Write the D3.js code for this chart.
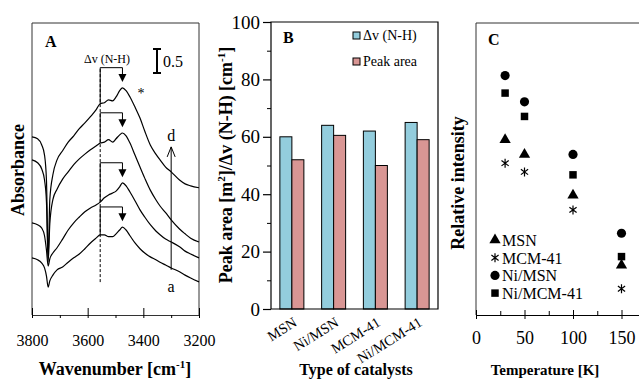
<!DOCTYPE html>
<html>
<head>
<meta charset="utf-8">
<script src="https://cdn.jsdelivr.net/npm/d3@7"></script>
<style>
  body { margin: 0; background: #fff; }
  svg { display: block; font-family: "Liberation Serif", "Times New Roman", serif; }
  svg text { font-family: "Liberation Serif", "Times New Roman", serif; }
</style>
</head>
<body>
<svg id="chart" width="639" height="381"></svg>
<script>
// ---------- panel A : IR spectra (a -> d) ----------
const wavenumbers = [3800, 3780, 3765, 3755, 3748, 3742, 3736, 3725, 3710, 3690, 3670, 3650,
  3630, 3610, 3590, 3570, 3555, 3540, 3525, 3510, 3498, 3485, 3475, 3462, 3448, 3430,
  3412, 3395, 3375, 3355, 3340, 3320, 3300, 3270, 3250, 3230, 3200];
const spectrumA = [1.19, 1.15, 1.08, 0.98, 0.81, 0.58, 0.71, 0.83, 0.94, 1.00, 1.10, 1.19,
  1.27, 1.38, 1.50, 1.60, 1.67, 1.67, 1.63, 1.63, 1.69, 1.77, 1.83, 1.77, 1.65, 1.50,
  1.38, 1.29, 1.21, 1.15, 1.10, 1.04, 0.98, 0.90, 0.83, 0.77, 0.69];
const spectrumB = [1.92, 1.88, 1.81, 1.65, 1.35, 1.02, 1.17, 1.29, 1.40, 1.58, 1.77, 1.92,
  2.04, 2.15, 2.23, 2.29, 2.35, 2.44, 2.50, 2.54, 2.58, 2.67, 2.75, 2.69, 2.56, 2.38,
  2.19, 2.04, 1.88, 1.75, 1.67, 1.58, 1.52, 1.42, 1.33, 1.27, 1.19];
const spectrumC = [3.23, 3.17, 3.04, 2.81, 2.35, 1.10, 1.90, 2.40, 2.62, 2.83, 2.98, 3.13,
  3.25, 3.35, 3.44, 3.52, 3.58, 3.60, 3.65, 3.60, 3.67, 3.75, 3.79, 3.73, 3.58, 3.33,
  3.08, 2.85, 2.60, 2.40, 2.27, 2.13, 1.98, 1.79, 1.69, 1.60, 1.52];
const spectrumD = [3.71, 3.67, 3.54, 3.33, 2.80, 1.19, 2.40, 2.92, 3.23, 3.42, 3.60, 3.73,
  3.88, 4.00, 4.13, 4.27, 4.40, 4.42, 4.48, 4.46, 4.54, 4.67, 4.73, 4.67, 4.54, 4.33,
  4.10, 3.83, 3.54, 3.35, 3.23, 3.08, 2.98, 2.81, 2.73, 2.69, 2.65];
const spectra = [spectrumA, spectrumB, spectrumC, spectrumD];
const refBand = 3555;   // dashed reference line
const peakBand = 3475;  // shifted N-H band

// ---------- panel B : bars ----------
const catalysts = ["MSN", "Ni/MSN", "MCM-41", "Ni/MCM-41"];
const shiftNH = [60, 64, 62, 65];
const peakArea = [52, 60.5, 50, 59];

// ---------- panel C : relative intensity ----------
const temperatures = [30, 50, 100, 150];
const relMSN = [0.60, 0.55, 0.41, 0.17];
const relMCM = [0.52, 0.49, 0.36, 0.09];
const relNiMSN = [0.82, 0.73, 0.55, 0.28];
const relNiMCM = [0.76, 0.68, 0.48, 0.20];

const svg = d3.select("#chart");
const ink = "#000";
const frameCol = "#333";
const serif = '"Liberation Serif", "Times New Roman", serif';

// ================= PANEL A =================
const xA = d3.scaleLinear().domain([3800, 3200]).range([32, 199]);
const yA = d3.scaleLinear().domain([0, 6.08]).range([315, 23]);
const gA = svg.append("g");

// frame
gA.append("path")
  .attr("d", `M${xA(3800)},${yA(0)}V${yA(6.08)}H${xA(3200)}V${yA(0)}`)
  .attr("fill", "none").attr("stroke", frameCol);

// minor ticks (outside) + major ticks (crossing) with labels
gA.append("g").attr("transform", `translate(0,${yA(0)})`)
  .call(d3.axisBottom(xA).tickValues(d3.range(3800, 3199, -100)).tickSize(3).tickFormat(""))
  .call(g => g.select(".domain").attr("stroke", frameCol));
gA.append("g").attr("transform", `translate(0,${yA(0)})`)
  .call(d3.axisBottom(xA).tickValues([3800, 3600, 3400, 3200]).tickFormat(d3.format("d"))
    .tickSizeInner(-7).tickSizeOuter(0).tickPadding(20))
  .call(g => g.select(".domain").remove())
  .call(g => g.selectAll("text").style("font-size", "16px").style("font-family", serif).attr("fill", ink));

const lineA = d3.line()
  .x((d, i) => xA(wavenumbers[i]))
  .y(d => yA(d))
  .curve(d3.curveMonotoneX);
gA.selectAll(".spec").data(spectra).enter().append("path")
  .attr("d", lineA).attr("fill", "none").attr("stroke", ink).attr("stroke-width", 1.2);

// dashed reference line
gA.append("line")
  .attr("x1", xA(refBand)).attr("x2", xA(refBand))
  .attr("y1", yA(5.12)).attr("y2", yA(0.67))
  .attr("stroke", ink).attr("stroke-dasharray", "3,2");

// shift arrows
const iRef = wavenumbers.indexOf(refBand);
const iPeak = wavenumbers.indexOf(peakBand);
spectra.forEach(s => {
  const tip = s[iPeak] + 0.12;
  const level = tip + 0.3;
  gA.append("path")
    .attr("d", `M${xA(refBand)},${yA(s[iRef])}V${yA(level)}H${xA(peakBand)}V${yA(tip) - 6}`)
    .attr("fill", "none").attr("stroke", ink);
  gA.append("path")
    .attr("d", `M${xA(peakBand) - 4},${yA(tip) - 8}L${xA(peakBand) + 4},${yA(tip) - 8}L${xA(peakBand)},${yA(tip)}Z`)
    .attr("fill", ink);
});

// a -> d arrow
const xArr = xA(3300);
gA.append("line").attr("x1", xArr).attr("x2", xArr).attr("y1", yA(0.94)).attr("y2", yA(3.5)).attr("stroke", ink);
gA.append("path").attr("d", `M${xArr - 4},${yA(3.5) + 10}L${xArr},${yA(3.5)}L${xArr + 4},${yA(3.5) + 10}`)
  .attr("fill", "none").attr("stroke", ink);
gA.append("text").attr("x", xArr).attr("y", yA(3.5) - 6).attr("text-anchor", "middle").attr("font-size", 16).text("d");
gA.append("text").attr("x", xArr).attr("y", yA(0.94) + 22).attr("text-anchor", "middle").attr("font-size", 16).text("a");

// scale bar 0.5
const sb0 = 5.04, sb1 = sb0 + 0.5, xSb = 157;
gA.append("path")
  .attr("d", `M${xSb - 4},${yA(sb1)}H${xSb + 4}M${xSb},${yA(sb1)}V${yA(sb0)}M${xSb - 4},${yA(sb0)}H${xSb + 4}`)
  .attr("stroke", ink).attr("stroke-width", 2).attr("fill", "none");
gA.append("text").attr("x", xSb + 6).attr("y", 67).attr("font-size", 16).text("0.5");

gA.append("text").attr("x", 107).attr("y", 63).attr("text-anchor", "middle").attr("font-size", 12).text("Δv (N-H)");
gA.append("text").attr("x", 141).attr("y", 98).attr("text-anchor", "middle").attr("font-size", 14).text("*");
gA.append("text").attr("x", 45).attr("y", 47).attr("font-size", 16).attr("font-weight", "bold").text("A");

gA.append("text").attr("transform", "translate(24,170) rotate(-90)").attr("text-anchor", "middle")
  .attr("font-size", 18).attr("font-weight", "bold").text("Absorbance");
const tA = gA.append("text").attr("x", 115).attr("y", 375).attr("text-anchor", "middle")
  .attr("font-size", 18).attr("font-weight", "bold");
tA.append("tspan").text("Wavenumber [cm");
tA.append("tspan").attr("font-size", 11).attr("dy", -7).text("-1");
tA.append("tspan").attr("dy", 7).text("]");

// ================= PANEL B =================
const xB = d3.scaleBand().domain(catalysts).range([271, 438]);
const xBin = d3.scaleBand().domain(["shift", "area"]).range([0, xB.bandwidth()]).paddingOuter(0.74);
const yB = d3.scaleLinear().domain([0, 100]).range([309, 22]);
const colShift = "#93cddd", colArea = "#d99694";
const gB = svg.append("g");

const barsB = catalysts.map((c, i) => ({ c, shift: shiftNH[i], area: peakArea[i] }));
["shift", "area"].forEach(k => {
  gB.selectAll(".bar-" + k).data(barsB).enter().append("rect")
    .attr("x", d => xB(d.c) + xBin(k))
    .attr("width", xBin.bandwidth())
    .attr("y", d => yB(d[k]))
    .attr("height", d => yB(0) - yB(d[k]))
    .attr("fill", k === "shift" ? colShift : colArea)
    .attr("stroke", ink).attr("stroke-width", 1);
});

gB.append("path")
  .attr("d", `M${xB.range()[0]},${yB(0)}V${yB(100)}H${xB.range()[1]}V${yB(0)}H${xB.range()[0]}`)
  .attr("fill", "none").attr("stroke", ink).attr("stroke-width", 1.2);
gB.append("g").attr("transform", `translate(${xB.range()[0]},0)`)
  .call(d3.axisLeft(yB).tickValues(d3.range(10, 100, 20)).tickSize(4).tickFormat(""))
  .call(g => g.select(".domain").remove());
gB.append("g").attr("transform", `translate(${xB.range()[0]},0)`)
  .call(d3.axisLeft(yB).tickValues(d3.range(0, 101, 20)).tickSize(8).tickSizeOuter(0).tickPadding(3))
  .call(g => g.select(".domain").remove())
  .call(g => g.selectAll("line").attr("stroke-width", 1.2))
  .call(g => g.selectAll("text").style("font-size", "19px").style("font-family", serif).attr("fill", ink));

gB.selectAll(".catlab").data(catalysts).enter().append("text")
  .attr("transform", d => `translate(${xB(d) + xB.bandwidth() / 2 + 6},325) rotate(-32)`)
  .attr("text-anchor", "end").attr("font-size", 14.5).text(d => d);

// legend
[["Δv (N-H)", colShift, 32], ["Peak area", colArea, 58]].forEach(([lab, col, y]) => {
  gB.append("rect").attr("x", 353).attr("y", y).attr("width", 7).attr("height", 7)
    .attr("fill", col).attr("stroke", ink);
  gB.append("text").attr("x", 363).attr("y", y + 8).attr("font-size", 14).text(lab);
});
gB.append("text").attr("x", 283).attr("y", 43).attr("font-size", 16).attr("font-weight", "bold").text("B");

const tBy = gB.append("text").attr("transform", "translate(232,165) rotate(-90)").attr("text-anchor", "middle")
  .attr("font-size", 18).attr("font-weight", "bold");
tBy.append("tspan").text("Peak area [m");
tBy.append("tspan").attr("font-size", 11).attr("dy", -7).text("2");
tBy.append("tspan").attr("dy", 7).text("]/Δv (N-H) [cm");
tBy.append("tspan").attr("font-size", 11).attr("dy", -7).text("-1");
tBy.append("tspan").attr("dy", 7).text("]");
gB.append("text").attr("x", 356).attr("y", 375).attr("text-anchor", "middle")
  .attr("font-size", 16).attr("font-weight", "bold").text("Type of catalysts");

// ================= PANEL C =================
const xC = d3.scaleLinear().domain([0, 200]).range([476, 670]);
const yC = d3.scaleLinear().domain([0, 1]).range([315, 23]);
const gC = svg.append("g");

gC.append("path")
  .attr("d", `M${xC(200)},${yC(1)}H${xC(0)}V${yC(0)}`)
  .attr("fill", "none").attr("stroke", frameCol);
gC.append("g").attr("transform", `translate(0,${yC(0)})`)
  .call(d3.axisBottom(xC).tickValues([25, 75, 125, 175]).tickSizeInner(-4).tickSizeOuter(0).tickFormat(""))
  .call(g => g.select(".domain").attr("stroke", ink).attr("stroke-width", 1.2));
gC.append("g").attr("transform", `translate(0,${yC(0)})`)
  .call(d3.axisBottom(xC).tickValues([0, 50, 100, 150]).tickSize(4).tickSizeOuter(0).tickPadding(12))
  .call(g => g.select(".domain").remove())
  .call(g => g.selectAll("line").attr("y1", -5))
  .call(g => g.selectAll("text").style("font-size", "18px").style("font-family", serif).attr("fill", ink));

const starPath = r => `M0,${-r}V${r}M${-r * 0.8},${-r * 0.6}L${r * 0.8},${r * 0.6}M${-r * 0.8},${r * 0.6}L${r * 0.8},${-r * 0.6}`;
const seriesC = [
  { name: "MSN", vals: relMSN, shape: d3.symbol(d3.symbolTriangle, 55)(), fill: true },
  { name: "MCM-41", vals: relMCM, shape: starPath(4.5), fill: false },
  { name: "Ni/MSN", vals: relNiMSN, shape: d3.symbol(d3.symbolCircle, 66)(), fill: true },
  { name: "Ni/MCM-41", vals: relNiMCM, shape: d3.symbol(d3.symbolSquare, 56)(), fill: true }
];
seriesC.forEach(s => {
  gC.selectAll(null).data(s.vals).enter().append("path")
    .attr("transform", (d, i) => `translate(${xC(temperatures[i])},${yC(d)})`)
    .attr("d", s.shape)
    .attr("fill", s.fill ? ink : "none").attr("stroke", ink).attr("stroke-width", s.fill ? 0 : 1.2);
});
seriesC.forEach((s, i) => {
  const y = 240 + i * 17.7;
  gC.append("path").attr("transform", `translate(495,${y})`).attr("d", s.shape)
    .attr("fill", s.fill ? ink : "none").attr("stroke", ink).attr("stroke-width", s.fill ? 0 : 1.2);
  gC.append("text").attr("x", 502).attr("y", y + 6).attr("font-size", 16).text(s.name);
});

gC.append("text").attr("x", 488).attr("y", 45).attr("font-size", 16).attr("font-weight", "bold").text("C");
gC.append("text").attr("transform", "translate(464,183) rotate(-90)").attr("text-anchor", "middle")
  .attr("font-size", 18).attr("font-weight", "bold").text("Relative intensity");
gC.append("text").attr("x", 545).attr("y", 375).attr("text-anchor", "middle")
  .attr("font-size", 15).attr("font-weight", "bold").text("Temperature [K]");
</script>
</body>
</html>
